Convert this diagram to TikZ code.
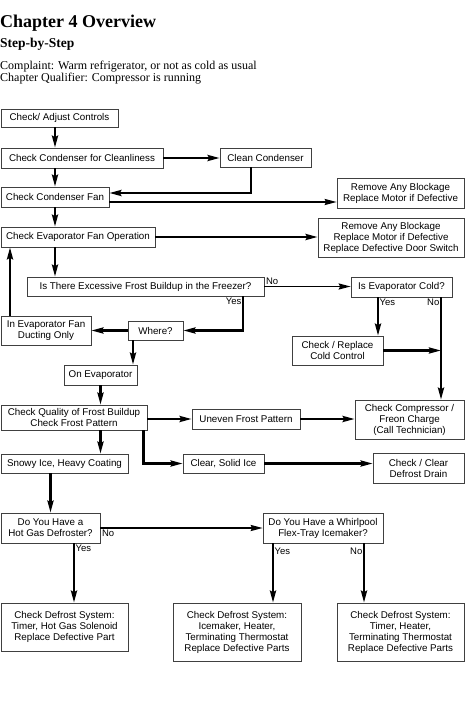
\documentclass[tikz,border=0pt]{standalone}
\usepackage{fontspec}
\setmainfont{Liberation Serif}
\newfontfamily\boxfont{Liberation Sans}
\usetikzlibrary{arrows.meta}

\begin{document}
\begin{tikzpicture}[x=1pt, y=-1pt,
    box/.style={draw=black!75, line width=0.6pt, inner sep=1pt, align=center,
        font=\boxfont\fontsize{9.8}{11}\selectfont},
    lbl/.style={inner sep=1.5pt, font=\boxfont\fontsize{9.5}{11}\selectfont},
    arr/.style={line width=2.4pt, -{Stealth[length=12pt, width=6pt, inset=1.5pt]}},
    thinarr/.style={line width=1.9pt, -{Stealth[length=12pt, width=6pt, inset=1.5pt]}}]
    \useasboundingbox (0,0) rectangle (474,711);

    \node[anchor=base west, inner sep=0pt, font=\bfseries\fontsize{18}{20}\selectfont] (title) at (0,28) {Chapter 4 Overview};
    \node[anchor=base west, inner sep=0pt, font=\bfseries\fontsize{13.5}{15}\selectfont] (sub) at (0,48) {Step-by-Step};
    \node[anchor=base west, inner sep=0pt, font=\fontsize{12}{12}\selectfont] (compl) at (0,70) {Complaint: Warm refrigerator, or not as cold as usual};
    \node[anchor=base west, inner sep=0pt, font=\fontsize{12}{12}\selectfont] (qual) at (0,82) {Chapter Qualifier: Compressor is running};

    \node[box, minimum width=117pt, minimum height=18pt] (ctrl) at (59.5,118) {Check/ Adjust Controls};
    \node[box, minimum width=162pt, minimum height=20pt] (cond) at (82,158) {Check Condenser for Cleanliness};
    \node[box, minimum width=91pt, minimum height=19pt] (clean) at (265.5,157.5) {Clean Condenser};
    \node[box, minimum width=108pt, minimum height=20pt] (cfan) at (55,197) {Check Condenser Fan};
    \node[box, minimum width=127pt, minimum height=30pt] (block1) at (400.5,193) {Remove Any Blockage\\Replace Motor if Defective};
    \node[box, minimum width=154pt, minimum height=20pt] (efan) at (78,237) {Check Evaporator Fan Operation};
    \node[box, minimum width=146pt, minimum height=39pt] (block2) at (391,237.5) {Remove Any Blockage\\Replace Motor if Defective\\Replace Defective Door Switch};
    \node[box, minimum width=237pt, minimum height=19pt] (frost) at (145.5,286.5) {Is There Excessive Frost Buildup in the Freezer?};
    \node[box, minimum width=101pt, minimum height=20pt] (evcold) at (401.5,287) {Is Evaporator Cold?};
    \node[box, minimum width=90pt, minimum height=29pt] (duct) at (46,330.5) {In Evaporator Fan\\Ducting Only};
    \node[box, minimum width=55pt, minimum height=19pt] (where) at (155.5,330.5) {Where?};
    \node[box, minimum width=91pt, minimum height=29pt] (cold) at (337.5,350.5) {Check / Replace\\Cold Control};
    \node[box, minimum width=73pt, minimum height=20pt] (onevap) at (100.5,375) {On Evaporator};
    \node[box, minimum width=146pt, minimum height=25pt] (quality) at (74,417.5) {Check Quality of Frost Buildup\\Check Frost Pattern};
    \node[box, minimum width=108pt, minimum height=20pt] (uneven) at (246,419) {Uneven Frost Pattern};
    \node[box, minimum width=109pt, minimum height=39pt] (comp) at (409.5,419.5) {Check Compressor /\\Freon Charge\\(Call Technician)};
    \node[box, minimum width=127pt, minimum height=19pt] (snowy) at (64.5,463.5) {Snowy Ice, Heavy Coating};
    \node[box, minimum width=81pt, minimum height=19pt] (clear) at (223.5,463.5) {Clear, Solid Ice};
    \node[box, minimum width=91pt, minimum height=30pt] (drain) at (418.5,468) {Check / Clear\\Defrost Drain};
    \node[box, minimum width=99pt, minimum height=30pt] (hotgas) at (50.5,528) {Do You Have a\\Hot Gas Defroster?};
    \node[box, minimum width=120pt, minimum height=30pt] (flex) at (323,528) {Do You Have a Whirlpool\\Flex-Tray Icemaker?};
    \node[box, minimum width=127pt, minimum height=48pt] (sys1) at (64.5,627) {Check Defrost System:\\Timer, Hot Gas Solenoid\\Replace Defective Part};
    \node[box, minimum width=128pt, minimum height=58pt] (sys2) at (237,632) {Check Defrost System:\\Icemaker, Heater,\\Terminating Thermostat\\Replace Defective Parts};
    \node[box, minimum width=127pt, minimum height=58pt] (sys3) at (400.5,632) {Check Defrost System:\\Timer, Heater,\\Terminating Thermostat\\Replace Defective Parts};

    \coordinate (frostyes) at ([xshift=97.5pt]frost.south);
    \coordinate (evyes) at ([xshift=-23.5pt]evcold.south);
    \coordinate (evno) at ([xshift=39.5pt]evcold.south);
    \coordinate (hgyes) at ([xshift=23.5pt]hotgas.south);
    \coordinate (fxyes) at ([xshift=-50pt]flex.south);
    \coordinate (fxno) at ([xshift=41pt]flex.south);

    \draw[arr] (ctrl.south -| cfan) -- (cond.north -| cfan);
    \draw[arr] (cond.south -| cfan) -- (cfan.north);
    \draw[arr] (cond.east) -- (cond.east -| clean.west);
    \draw[arr] ([xshift=-14.5pt]clean.south) |- ([yshift=4pt]cfan.east);
    \draw[thinarr] ([yshift=-5pt]cfan.east) -- ([yshift=-5pt]cfan.east -| block1.west);
    \draw[arr] (cfan.south) -- (efan.north -| cfan);
    \draw[arr] (efan.east) -- (efan.east -| block2.west);
    \draw[arr] (efan.south -| cfan) -- (frost.north -| cfan);
    \draw[thinarr] (frost.east) -- (frost.east -| evcold.west);
    \node[lbl, anchor=south west] at (frost.east) {No};
    \draw[arr] (frostyes) |- (where.east);
    \node[lbl, below left] at (frostyes) {Yes};
    \draw[arr] (where.west) -- (where.west -| duct.east);
    \draw[arr] ([xshift=-36pt]duct.north) -- ([xshift=-36pt]duct.north |- efan.south);
    \draw[arr] ([xshift=-22.5pt]where.south) -- ([xshift=-22.5pt]where.south |- onevap.north);
    \draw[arr] (onevap.south) -- (onevap.south |- quality.north);
    \draw[arr] (evyes) -- (evyes |- cold.north);
    \draw[arr] (evno) -- (evno |- comp.north);
    \node[lbl, below right] at (evyes) {Yes};
    \node[lbl, below left] at (evno) {No};
    \draw[arr] (cold.east) -- (cold.east -| evno);
    \draw[arr] (uneven.west -| quality.east) -- (uneven.west);
    \draw[arr] (uneven.east) -- (uneven.east -| comp.west);
    \draw[arr] (quality.south -| onevap) -- (snowy.north -| onevap);
    \draw[arr] ([xshift=-4pt]quality.south east) |- (clear.west);
    \draw[arr] (clear.east) -- (clear.east -| drain.west);
    \draw[arr] (snowy.south -| hotgas) -- (hotgas.north);
    \draw[thinarr] (hotgas.east) -- (hotgas.east -| flex.west);
    \node[lbl, below right] at (hotgas.east) {No};
    \draw[arr] (hgyes) -- (hgyes |- sys1.north);
    \node[lbl, below right] at (hgyes) {Yes};
    \draw[arr] (fxyes) -- (fxyes |- sys2.north);
    \draw[arr] (fxno) -- (fxno |- sys3.north);
    \node[lbl, below right, yshift=-3pt] at (fxyes) {Yes};
    \node[lbl, below left, yshift=-3pt] at (fxno) {No};
\end{tikzpicture}
\end{document}
